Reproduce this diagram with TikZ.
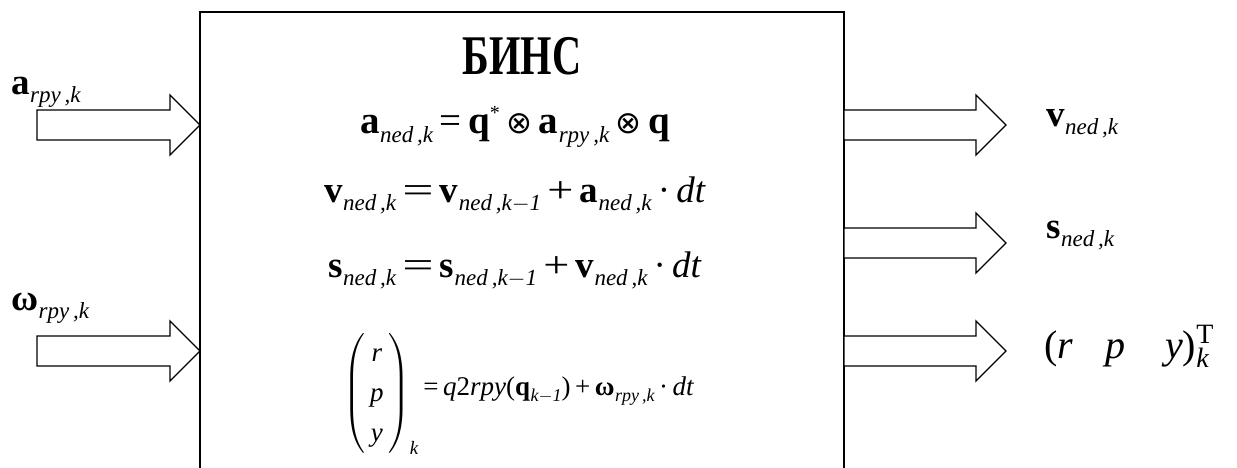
\RequirePackage{fix-cm}
\documentclass[tikz,border=0pt]{standalone}
\usepackage{amsmath}
\usepackage{fontspec}
\setmainfont{Liberation Serif}
\newfontfamily\dvs{DejaVu Sans}
\usetikzlibrary{calc}
\newcommand\vs[4]{\textbf{#1}\kern0.5pt\raisebox{-#4pt}{\fontsize{#3}{#3}\selectfont\itshape #2}}
\newcommand\otm[1]{{\fontsize{#1}{#1}\selectfont\dvs ⊗}}
\newcommand\barrow[2]{\draw[arr] ($(#1)+(0,-15)$) -- ($(#2)+(-30,-15)$) -- ($(#2)+(-30,-30)$) -- (#2) -- ($(#2)+(-30,30)$) -- ($(#2)+(-30,15)$) -- ($(#1)+(0,15)$) -- cycle;}
\begin{document}
\begin{tikzpicture}[x=1pt,y=-1pt,
  arr/.style={draw=black,line width=1.3pt,fill=white,line join=miter},
  boxline/.style={draw=black,line width=1.7pt},
  eq/.style={anchor=base,inner sep=0pt},
  lbl/.style={anchor=base west,inner sep=0pt}]
\useasboundingbox (0,0) rectangle (1237,468);
% block
\coordinate (bl) at (200,468);
\coordinate (tl) at (200,12);
\coordinate (tr) at (844,12);
\coordinate (br) at (844,468);
\draw[boxline] (bl) -- (tl) -- (tr) -- (br);
\node[eq] (title) at (522,75) {\scalebox{0.72}[1]{\fontsize{56}{56}\selectfont\bfseries БИНС}};
% equations
\node[eq] (e1) at (515,134) {\fontsize{39}{39}\selectfont
  \vs{a}{ned\,,k}{23}{9}\,=\,\textbf{q}\raisebox{14pt}{\fontsize{20}{20}\selectfont *}\,\otm{31}\,\vs{a}{rpy\,,k}{23}{9}\,\otm{31}\,\textbf{q}};
\node[eq] (e2) at (515,202) {\fontsize{37}{37}\selectfont
  \vs{v}{ned\,,k}{23}{8}\,\scalebox{1.5}[1]{=}\,\vs{v}{ned\,,k$-$1}{23}{8}\,\scalebox{1.25}[1]{+}\,\vs{a}{ned\,,k}{23}{8}\,·\,\textit{dt}};
\node[eq] (e3) at (515,277) {\fontsize{37}{37}\selectfont
  \vs{s}{ned\,,k}{23}{8}\,\scalebox{1.5}[1]{=}\,\vs{s}{ned\,,k$-$1}{23}{8}\,\scalebox{1.25}[1]{+}\,\vs{v}{ned\,,k}{23}{8}\,·\,\textit{dt}};
\node[eq] (e4) at (519,395) {\fontsize{27}{40}\selectfont
  \raisebox{-5pt}{$\left(\begin{array}{@{\,}c@{\,}}\text{\itshape r}\\ \text{\itshape p}\\ \text{\itshape y}\end{array}\right)_{\text{\itshape k}}$}\,=\,\textit{q}2\textit{rpy}(\vs{q}{k$-$1}{18}{6})\,+\,\vs{ω}{rpy\,,k}{18}{6}\,·\,\textit{dt}};
% input labels
\node[lbl] (la) at (11,95) {\fontsize{37}{37}\selectfont\vs{a}{rpy\,,k}{23}{8}};
\node[lbl] (lw) at (11,310) {\fontsize{37}{37}\selectfont\vs{ω}{rpy\,,k}{23}{8}};
% output labels
\node[lbl] (lv) at (1046,127) {\fontsize{37}{37}\selectfont\vs{v}{ned\,,k}{23}{8}};
\node[lbl] (ls) at (1046,238) {\fontsize{37}{37}\selectfont\vs{s}{ned\,,k}{23}{8}};
\node[lbl] (lr) at (1044,358) {\fontsize{40}{40}\selectfont (\textit{r}\hspace{32pt}\textit{p}\hspace{40pt}\textit{y})$^{\text{\upshape T}}_{\text{\itshape k}}$};
% arrows
\coordinate (ia) at (37,125);
\coordinate (iw) at (37,351);
\coordinate (ta) at (200,125);
\coordinate (tw) at (200,351);
\coordinate (ov) at (844,125);
\coordinate (os) at (844,243);
\coordinate (or) at (844,351);
\coordinate (tv) at (1006,125);
\coordinate (ts) at (1006,243);
\coordinate (tr2) at (1006,351);
\barrow{ia}{ta}
\barrow{iw}{tw}
\barrow{ov}{tv}
\barrow{os}{ts}
\barrow{or}{tr2}
\end{tikzpicture}
\end{document}
